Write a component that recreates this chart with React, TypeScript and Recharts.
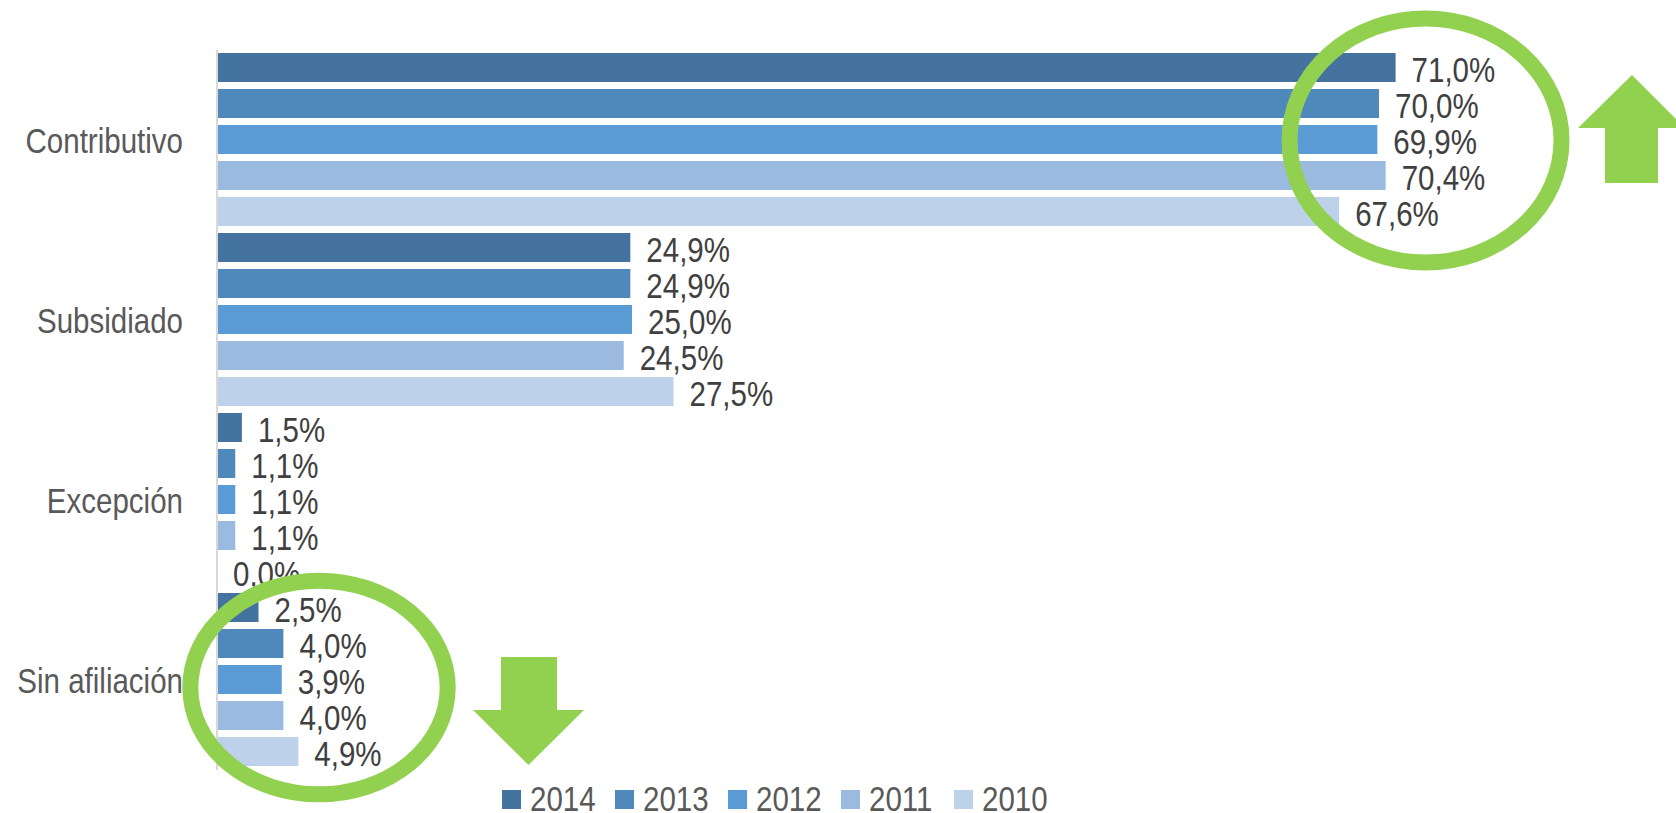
import { BarChart, Bar, XAxis, YAxis, Legend, LabelList } from 'recharts'

const categories = ['Contributivo', 'Subsidiado', 'Excepción', 'Sin afiliación']
const years = ['2014', '2013', '2012', '2011', '2010']
const values2014 = [71.0, 24.9, 1.5, 2.5]
const values2013 = [70.0, 24.9, 1.1, 4.0]
const values2012 = [69.9, 25.0, 1.1, 3.9]
const values2011 = [70.4, 24.5, 1.1, 4.0]
const values2010 = [67.6, 27.5, 0.0, 4.9]

const colors: Record<string, string> = {
  '2014': '#43739E',
  '2013': '#4F88BB',
  '2012': '#5B9BD5',
  '2011': '#9ABAE0',
  '2010': '#BDD1EA',
}

const data = categories.map((name, i) => ({
  name,
  '2014': values2014[i],
  '2013': values2013[i],
  '2012': values2012[i],
  '2011': values2011[i],
  '2010': values2010[i],
}))

const FONT = "'Liberation Sans', Arial, sans-serif"
const GREEN = '#92D050'

// Arial Narrow look: Arial squeezed horizontally
const narrow = (x: number, y: number) => `translate(${x},${y}) scale(0.82,1)`

const fmt = (v: number) => `${v.toFixed(1).replace('.', ',')}%`

const ValueLabel = (props: any) => {
  const { x, y, width, height, value } = props
  const tx = Number(x) + Number(width) + 16
  const ty = Number(y) + Number(height) / 2 + 14
  return (
    <text transform={narrow(tx, ty)} fontSize={36} fill="#404040" fontFamily={FONT}>
      {fmt(Number(value))}
    </text>
  )
}

const CategoryTick = (props: any) => {
  const { x, y, payload } = props
  return (
    <text
      transform={narrow(x, y + 12.5)}
      textAnchor="end"
      fontSize={36}
      fill="#595959"
      fontFamily={FONT}
    >
      {payload.value}
    </text>
  )
}

const YearLegend = () => (
  <svg width={600} height={43} style={{ display: 'block' }}>
    {years.map((yr, i) => (
      <g key={yr}>
        <rect x={i * 113} y={20} width={19} height={19} fill={colors[yr]} />
        <text transform={narrow(i * 113 + 28, 41)} fontSize={36} fill="#595959" fontFamily={FONT}>
          {yr}
        </text>
      </g>
    ))}
  </svg>
)

export default function App() {
  return (
    <div style={{ position: 'absolute', left: 0, top: 0, width: 1676, height: 813, background: '#fff' }}>
      <BarChart
        width={1676}
        height={813}
        data={data}
        layout="vertical"
        margin={{ top: 50, right: 131, bottom: 43, left: 0 }}
        barCategoryGap={3}
        barGap={7}
      >
        <XAxis type="number" domain={[0, 80]} hide />
        <YAxis
          type="category"
          dataKey="name"
          width={217}
          tickSize={0}
          tickMargin={34}
          tickLine={false}
          axisLine={{ stroke: '#D9D9D9', strokeWidth: 2 }}
          tick={<CategoryTick />}
        />
        <Legend
          layout="horizontal"
          verticalAlign="middle"
          align="center"
          content={<YearLegend />}
          wrapperStyle={{ left: 502, top: 770, width: 600, height: 43 }}
        />
        {years.map((yr) => (
          <Bar key={yr} dataKey={yr} fill={colors[yr]} minPointSize={0.01} isAnimationActive={false}>
            <LabelList dataKey={yr} content={<ValueLabel />} />
          </Bar>
        ))}
      </BarChart>
      <svg
        width={1676}
        height={813}
        style={{ position: 'absolute', left: 0, top: 0, pointerEvents: 'none' }}
      >
        <ellipse cx={1425.5} cy={140.5} rx={136} ry={122} fill="none" stroke={GREEN} strokeWidth={16} />
        <ellipse cx={319} cy={687.5} rx={128.7} ry={106.8} fill="none" stroke={GREEN} strokeWidth={16} />
        <polygon
          points="1632,75 1685,128 1658,128 1658,183 1605,183 1605,128 1578,128"
          fill={GREEN}
        />
        <polygon
          points="501,657 557,657 557,710 584,710 528.5,765 473,710 501,710"
          fill={GREEN}
        />
      </svg>
    </div>
  )
}
